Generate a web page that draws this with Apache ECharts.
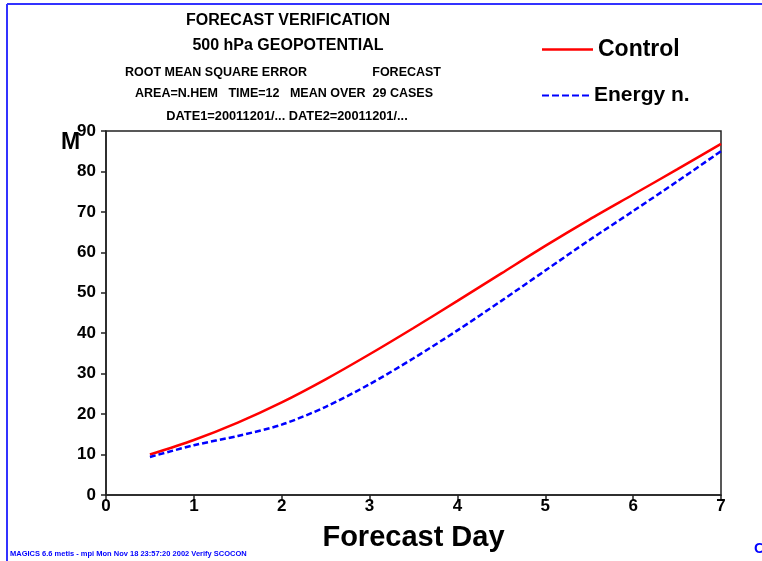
<!DOCTYPE html>
<html>
<head>
<meta charset="utf-8">
<script src="https://cdn.jsdelivr.net/npm/echarts@6/dist/echarts.min.js"></script>
<style>html,body{margin:0;padding:0;background:#fff;}#c{width:762px;height:561px;}</style>
</head>
<body>
<div id="c"></div>
<script>
const forecastDays = [0.5, 1, 1.5, 2, 2.5, 3, 3.5, 4, 4.5, 5, 5.5, 6, 6.5, 7];
const controlRmse = [10.0, 13.6, 17.9, 22.9, 28.6, 34.8, 41.3, 48.0, 54.8, 61.6, 68.1, 74.3, 80.5, 86.8];
const energyRmse  = [9.4, 12.3, 14.6, 17.4, 21.8, 27.4, 33.8, 40.7, 48.0, 55.5, 63.0, 70.2, 77.5, 85.0];
const xTicks = [0, 1, 2, 3, 4, 5, 6, 7];
const yTicks = [0, 10, 20, 30, 40, 50, 60, 70, 80, 90];
const titleLines = [
  'FORECAST VERIFICATION',
  '500 hPa GEOPOTENTIAL'
];
const infoLines = [
  'ROOT MEAN SQUARE ERROR',
  'FORECAST',
  'AREA=N.HEM   TIME=12   MEAN OVER  29 CASES',
  'DATE1=20011201/... DATE2=20011201/...'
];
const footer = 'MAGICS 6.6 metis - mpi Mon Nov 18 23:57:20 2002 Verify SCOCON';

const F = '"Liberation Sans", Arial, sans-serif';
const chart = echarts.init(document.getElementById('c'), null, {renderer: 'canvas'});
const pair = (xs, ys) => xs.map((x, i) => [x, ys[i]]);
const dashIcon = 'path://M0,0h7v2h-7z M10,0h7v2h-7z M20,0h7v2h-7z M30,0h7v2h-7z M40,0h7v2h-7z';

chart.setOption({
  animation: false,
  backgroundColor: '#fff',
  grid: {left: 106, right: 41, top: 131, bottom: 66, show: true, borderColor: '#222', borderWidth: 1.5, backgroundColor: 'transparent'},
  xAxis: {
    type: 'value', min: xTicks[0], max: xTicks[xTicks.length - 1], interval: 1,
    name: 'Forecast Day', nameLocation: 'middle', nameGap: 28,
    nameTextStyle: {fontFamily: F, fontWeight: 'bold', fontSize: 29, color: '#000'},
    axisLine: {show: true, onZero: false, lineStyle: {color: '#222', width: 1.5}},
    axisTick: {show: true, length: 6, lineStyle: {color: '#222', width: 1.5}},
    axisLabel: {fontFamily: F, fontWeight: 'bold', fontSize: 17, color: '#000', margin: 3},
    splitLine: {show: false}
  },
  yAxis: {
    type: 'value', min: yTicks[0], max: yTicks[yTicks.length - 1], interval: 10,
    axisLine: {show: true, lineStyle: {color: '#222', width: 1.5}},
    axisTick: {show: true, length: 5, lineStyle: {color: '#222', width: 1.5}},
    axisLabel: {fontFamily: F, fontWeight: 'bold', fontSize: 17, color: '#000', margin: 10},
    splitLine: {show: false}
  },
  legend: [
    {data: [{name: 'Control', icon: 'rect'}], left: 537, top: 33, itemWidth: 51, itemHeight: 2.5, itemGap: 10,
     textStyle: {fontFamily: F, fontWeight: 'bold', fontSize: 23, color: '#000'}},
    {data: [{name: 'Energy n.', icon: dashIcon}], left: 537, top: 80, itemWidth: 47, itemHeight: 2.5, itemGap: 8,
     textStyle: {fontFamily: F, fontWeight: 'bold', fontSize: 21, color: '#000'}}
  ],
  series: [
    {name: 'Control', type: 'line', data: pair(forecastDays, controlRmse), smooth: 0.3, showSymbol: false, symbol: 'none',
     lineStyle: {color: '#ff0000', width: 2.5}, itemStyle: {color: '#ff0000'}},
    {name: 'Energy n.', type: 'line', data: pair(forecastDays, energyRmse), smooth: 0.3, showSymbol: false, symbol: 'none',
     lineStyle: {color: '#0000ff', width: 2.5, type: [6, 3]}, itemStyle: {color: '#0000ff'}}
  ],
  graphic: [
    {type: 'line', shape: {x1: 7, y1: 4, x2: 762, y2: 4}, style: {stroke: '#3333ff', lineWidth: 2}},
    {type: 'line', shape: {x1: 7, y1: 4, x2: 7, y2: 561}, style: {stroke: '#3333ff', lineWidth: 2}},
    {type: 'text', style: {text: titleLines[0], x: 288, y: 13, textAlign: 'center', font: 'bold 16px ' + F, fill: '#000'}},
    {type: 'text', style: {text: titleLines[1], x: 288, y: 38, textAlign: 'center', font: 'bold 16px ' + F, fill: '#000'}},
    {type: 'text', style: {text: infoLines[0], x: 125, y: 66, font: 'bold 12.5px ' + F, fill: '#000'}},
    {type: 'text', style: {text: infoLines[1], x: 441, y: 66, textAlign: 'right', font: 'bold 12.5px ' + F, fill: '#000'}},
    {type: 'text', style: {text: infoLines[2], x: 284, y: 87, textAlign: 'center', font: 'bold 12.5px ' + F, fill: '#000'}},
    {type: 'text', style: {text: infoLines[3], x: 287, y: 110, textAlign: 'center', font: 'bold 12.8px ' + F, fill: '#000'}},
    {type: 'text', style: {text: 'M', x: 61, y: 131, font: 'bold 23px ' + F, fill: '#000'}},
    {type: 'text', style: {text: footer, x: 10, y: 550, font: 'bold 7.5px ' + F, fill: '#0000ff'}},
    {type: 'text', style: {text: 'C', x: 754, y: 541, font: 'bold 15px ' + F, fill: '#0000ff'}}
  ]
});
</script>
</body>
</html>
